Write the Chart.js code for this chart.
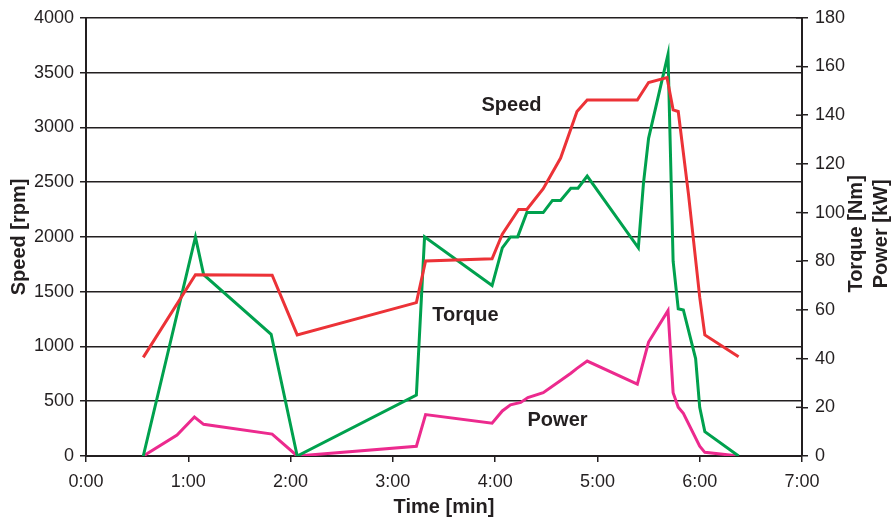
<!DOCTYPE html>
<html>
<head>
<meta charset="utf-8">
<script src="https://cdn.jsdelivr.net/npm/chart.js@4/dist/chart.umd.min.js"></script>
<style>
  body { margin: 0; background: #fff; }
  #wrap { width: 891px; height: 521px; position: relative; }
</style>
</head>
<body>
<div id="wrap"><canvas id="chart"></canvas></div>
<script>
// tiempos en minutos
const speedTime = [0.56, 1.07, 1.82, 2.065, 3.23, 3.32, 3.97, 4.07, 4.23, 4.31, 4.47, 4.64, 4.80, 4.90, 5.39, 5.50, 5.68, 5.74, 5.79, 5.89, 6.00, 6.05, 6.38];
const speedRpm  = [900, 1655, 1650, 1105, 1400, 1780, 1800, 2025, 2250, 2250, 2440, 2720, 3145, 3250, 3250, 3410, 3455, 3160, 3145, 2390, 1450, 1105, 905];

const torqueTime = [0.56, 1.07, 1.15, 1.81, 2.065, 3.23, 3.31, 3.97, 4.07, 4.15, 4.22, 4.31, 4.47, 4.56, 4.64, 4.74, 4.81, 4.90, 5.40, 5.45, 5.50, 5.69, 5.74, 5.79, 5.84, 5.96, 6.00, 6.05, 6.38];
const torqueNm   = [0, 90, 74.5, 50, 0, 25, 90, 70, 85.5, 90, 90, 100, 100, 105, 105, 110, 110, 115, 85.5, 112, 130.5, 165, 80, 60.5, 60, 40, 20, 10, 0];

const powerTime = [0.56, 0.89, 1.06, 1.15, 1.82, 2.065, 3.23, 3.32, 3.97, 4.07, 4.15, 4.25, 4.32, 4.47, 4.64, 4.74, 4.80, 4.90, 5.39, 5.50, 5.69, 5.74, 5.79, 5.84, 6.00, 6.05, 6.38];
const powerKw   = [0, 8.6, 16, 13, 9, 0, 4, 17, 13.5, 18.5, 21, 22, 24, 26, 31, 34, 36, 39, 29.5, 46.8, 59.7, 26, 20, 17.5, 4, 1.5, 0];

// etiquetas dentro del gráfico (tiempo, rpm)
const curveLabels = [
  { text: 'Speed',  t: 4.16, v: 3200 },
  { text: 'Torque', t: 3.71, v: 1282 },
  { text: 'Power',  t: 4.61, v: 327 }
];

const ink = '#231f20';
const fontName = '"Liberation Sans", Arial, Helvetica, sans-serif';

function puntos(xs, ys) {
  return xs.map((x, i) => ({ x: x, y: ys[i] }));
}

// textos y marcas extra que Chart.js no dibuja como queremos
const extras = {
  id: 'extras',
  afterDatasetsDraw(chart) {
    const ctx = chart.ctx;
    const xs = chart.scales.x, ys = chart.scales.y, y1 = chart.scales.y1;
    ctx.save();
    ctx.fillStyle = ink;
    ctx.font = 'bold 20px ' + fontName;
    ctx.textAlign = 'center';
    ctx.textBaseline = 'middle';
    curveLabels.forEach(l => {
      ctx.fillText(l.text, xs.getPixelForValue(l.t), ys.getPixelForValue(l.v));
    });

    // marcas del eje derecho que cruzan hacia dentro
    ctx.strokeStyle = ink;
    ctx.lineWidth = 1.5;
    y1.ticks.forEach(tk => {
      const py = y1.getPixelForValue(tk.value);
      ctx.beginPath();
      ctx.moveTo(y1.left - 6, py);
      ctx.lineTo(y1.left, py);
      ctx.stroke();
    });

    // título del eje derecho, girado de abajo hacia arriba
    const midY = (chart.chartArea.top + chart.chartArea.bottom) / 2;
    [['Torque [Nm]', 856], ['Power [kW]', 881]].forEach(([txt, px]) => {
      ctx.save();
      ctx.translate(px, midY - 3);
      ctx.rotate(-Math.PI / 2);
      ctx.fillText(txt, 0, 0);
      ctx.restore();
    });
    ctx.restore();
  }
};

const ctx = document.getElementById('chart').getContext('2d');
new Chart(ctx, {
  type: 'line',
  data: {
    datasets: [
      { label: 'Speed', data: puntos(speedTime, speedRpm), yAxisID: 'y', borderColor: '#ec3237', borderWidth: 3 },
      { label: 'Torque', data: puntos(torqueTime, torqueNm), yAxisID: 'y1', borderColor: '#00a14e', borderWidth: 3 },
      { label: 'Power', data: puntos(powerTime, powerKw), yAxisID: 'y1', borderColor: '#ec2a8e', borderWidth: 3 }
    ]
  },
  options: {
    responsive: true,
    maintainAspectRatio: false,
    animation: false,
    events: [],
    elements: { point: { radius: 0 }, line: { tension: 0, fill: false } },
    layout: { padding: { top: 16, left: 0, right: 0, bottom: 0 } },
    plugins: { legend: { display: false }, tooltip: { enabled: false } },
    scales: {
      x: {
        type: 'linear',
        min: 0, max: 7,
        afterFit: s => { s.height = 65; },
        border: { display: true, color: ink, width: 2 },
        grid: { drawOnChartArea: false, color: ink, lineWidth: 1.5, tickLength: 6 },
        ticks: {
          stepSize: 1, padding: 9, color: ink, maxRotation: 0,
          font: { family: fontName, size: 18 },
          callback: v => Math.floor(v) + ':00'
        },
        title: { display: true, text: 'Time [min]', color: ink, padding: { top: 0, bottom: 2 }, font: { family: fontName, size: 20, weight: 'bold' } }
      },
      y: {
        position: 'left',
        min: 0, max: 4000,
        afterFit: s => { s.width = 86; },
        border: { display: true, color: ink, width: 2 },
        grid: { color: ink, lineWidth: 1.5, tickLength: 6 },
        ticks: { stepSize: 500, padding: 6, color: ink, font: { family: fontName, size: 18 }, callback: v => String(v) },
        title: { display: true, text: 'Speed [rpm]', color: ink, padding: { top: 7, bottom: 0 }, font: { family: fontName, size: 20, weight: 'bold' } }
      },
      y1: {
        position: 'right',
        min: 0, max: 180,
        afterFit: s => { s.width = 89; },
        border: { display: true, color: ink, width: 2 },
        grid: { drawOnChartArea: false, color: ink, lineWidth: 1.5, tickLength: 6 },
        ticks: { stepSize: 20, padding: 7, color: ink, font: { family: fontName, size: 18 } }
      }
    }
  },
  plugins: [extras]
});
</script>
</body>
</html>
